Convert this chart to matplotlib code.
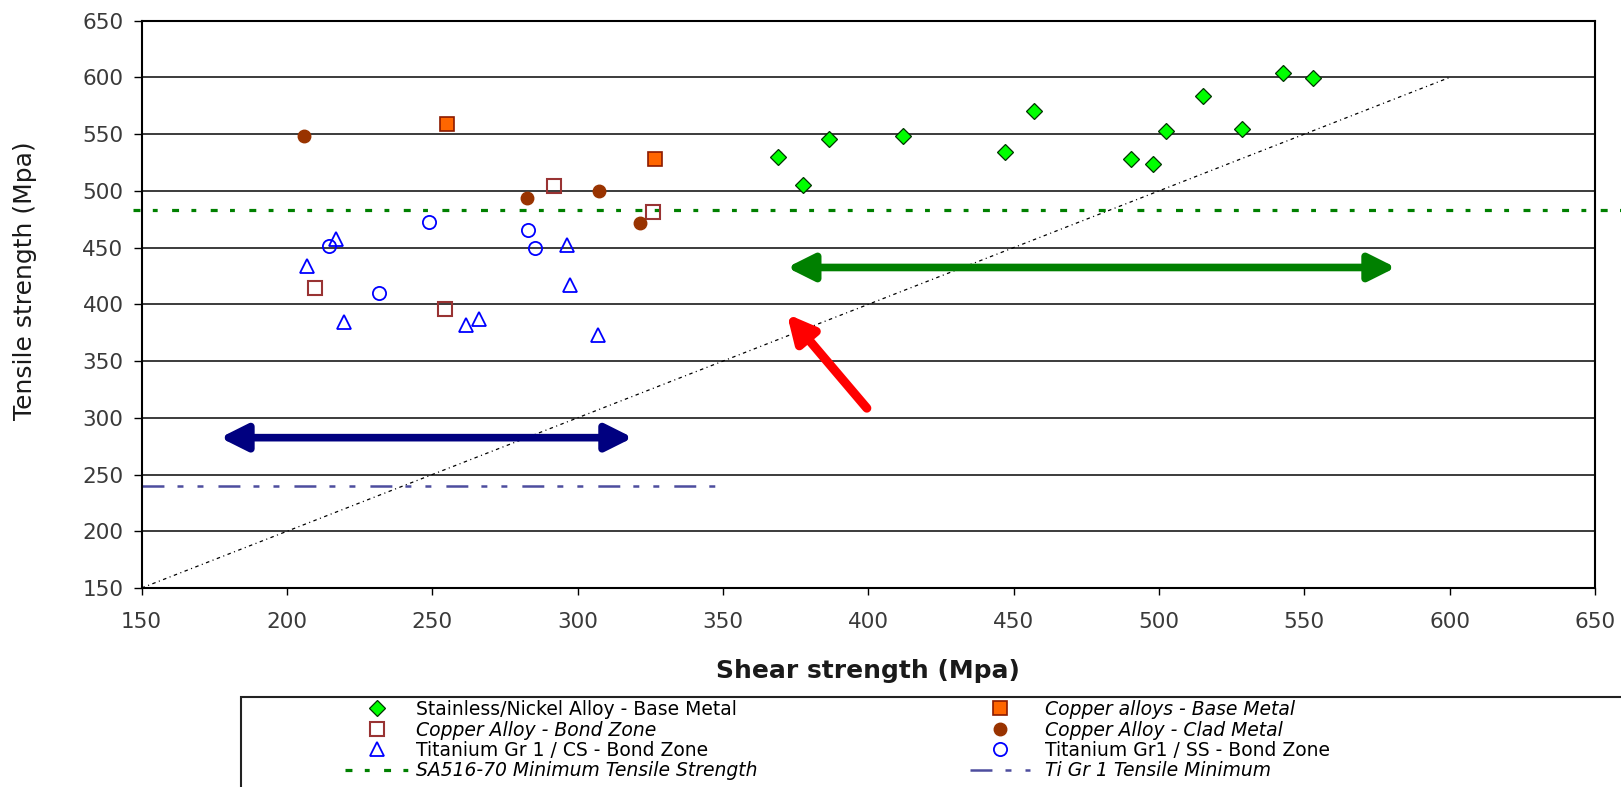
import numpy as np
import matplotlib
matplotlib.use('Agg')
import matplotlib.pyplot as plt
from matplotlib.patches import Rectangle

plt.rcParams['font.family'] = ['DejaVu Sans']
plt.rcParams['lines.scale_dashes'] = False

# data (MPa)
ss_shear = [369, 377.5, 386.5, 412, 447, 457, 490.5, 498, 502.5, 515, 528.5, 542.5, 553]
ss_tensile = [530, 505, 546, 548.5, 534.5, 570.5, 528, 523.5, 552.5, 583.5, 554.5, 603.5, 599.5]

cu_base_shear = [255, 326.5]
cu_base_tensile = [559, 528.5]

cu_bond_shear = [209.5, 254.5, 292, 326]
cu_bond_tensile = [414, 395.5, 504, 481]

cu_clad_shear = [206, 282.5, 307.5, 321.5]
cu_clad_tensile = [548.5, 493.5, 499.5, 471.5]

ti_cs_shear = [207, 217, 219.5, 261.5, 266, 296.5, 297.5, 307]
ti_cs_tensile = [434, 457.5, 384.5, 382, 387.5, 452, 417, 373]

ti_ss_shear = [214.5, 231.5, 249, 283, 285.5]
ti_ss_tensile = [451, 410, 473, 465.5, 449.5]

sa516_min = 483
ti_min = 240
ti_min_span = [150, 348]
diag = [150, 600]

ticks = list(range(150, 651, 50))

labels_col1 = ['Stainless/Nickel Alloy - Base Metal', 'Copper Alloy - Bond Zone',
               'Titanium Gr 1 / CS - Bond Zone', 'SA516-70 Minimum Tensile Strength']
labels_col2 = ['Copper alloys - Base Metal', 'Copper Alloy - Clad Metal',
               'Titanium Gr1 / SS - Bond Zone', 'Ti Gr 1 Tensile Minimum']

W, H = 1621, 787
fig = plt.figure(figsize=(W / 100, H / 100), dpi=100)
ax = fig.add_axes([141.6 / W, 1 - 588 / H, (1595 - 141.6) / W, (588 - 20.7) / H])

ax.set_xlim(150, 650)
ax.set_ylim(150, 650)
ax.set_xticks(ticks)
ax.set_yticks(ticks)
ax.grid(axis='y', color='#1a1a1a', lw=1.2, zorder=0)
ax.set_axisbelow(True)

# reference lines
ax.plot(diag, diag, color='black', lw=0.9, ls=(0, (2.5, 2.5, 0.8, 2.5)), zorder=2)
h_sa, = ax.plot([147, 660], [sa516_min, sa516_min], color='#008000', lw=2.3,
                ls=(0, (5, 8.9, 3.5, 10.4)), clip_on=False, zorder=2)
h_ti, = ax.plot(ti_min_span, [ti_min, ti_min], color='#4d4d9e', lw=1.8,
                ls=(0, (15.8, 9.4, 4.3, 10.1, 4.3, 10.8)), zorder=2)

# series
h_ss, = ax.plot(ss_shear, ss_tensile, ls='none', marker='D', ms=8, mfc='#00ff00',
                mec='#003300', mew=0.9, zorder=4)
h_cub, = ax.plot(cu_base_shear, cu_base_tensile, ls='none', marker='s', ms=9.5,
                 mfc='#ff6600', mec='#8b1a00', mew=1.2, zorder=4)
h_cubd, = ax.plot(cu_bond_shear, cu_bond_tensile, ls='none', marker='s', ms=9.5,
                  mfc='none', mec='#993333', mew=1.5, zorder=4)
h_cucl, = ax.plot(cu_clad_shear, cu_clad_tensile, ls='none', marker='o', ms=9,
                  mfc='#993300', mec='#993300', mew=1, zorder=4)
h_tics, = ax.plot(ti_cs_shear, ti_cs_tensile, ls='none', marker='^', ms=10,
                  mfc='none', mec='#0000ff', mew=1.3, zorder=4)
h_tiss, = ax.plot(ti_ss_shear, ti_ss_tensile, ls='none', marker='o', ms=9.5,
                  mfc='none', mec='#0000ff', mew=1.3, zorder=4)

# arrows
arr = dict(shrinkA=0, shrinkB=0, mutation_scale=20)
ax.annotate('', xy=(581.5, 432.5), xytext=(372, 432.5),
            arrowprops=dict(arrowstyle='<|-|>,head_length=0.8,head_width=0.4',
                            color='#008000', lw=5.5, **arr), zorder=5)
ax.annotate('', xy=(319, 282.5), xytext=(177, 282.5),
            arrowprops=dict(arrowstyle='<|-|>,head_length=0.8,head_width=0.4',
                            color='#000080', lw=5.5, **arr), zorder=5)
ax.annotate('', xy=(372, 391.5), xytext=(399.5, 308.5),
            arrowprops=dict(arrowstyle='-|>,head_length=0.8,head_width=0.4',
                            color='#ff0000', lw=6.5, **arr), zorder=5)

for sp in ax.spines.values():
    sp.set_linewidth(1.5)
    sp.set_color('black')
ax.tick_params(axis='both', direction='out', labelsize=15.5, labelcolor='#3a3a3a', width=1)
ax.tick_params(axis='y', length=6, pad=7)
ax.tick_params(axis='x', length=5, pad=12)

fig.text(868.3 / W, 1 - 671 / H, 'Shear strength (Mpa)', ha='center', va='center',
         fontsize=18, fontweight='bold', color='#1a1a1a')
fig.text(25 / W, 1 - 281 / H, 'Tensile strength (Mpa)', ha='center', va='center',
         rotation=90, fontsize=18, color='#1a1a1a')

# legend box runs off the bottom/right of the figure
fig.add_artist(Rectangle((241 / W, -0.05), 1.0, (1 - 697 / H) + 0.05,
                         transform=fig.transFigure, fill=False, lw=1.5,
                         ec='#222222', clip_on=False))

leg1 = fig.legend([h_ss, h_cubd, h_tics, h_sa], labels_col1, loc='upper left',
                  bbox_to_anchor=(345 / W, 1 - 700 / H), frameon=False, fontsize=13.5,
                  handlelength=3.45, handletextpad=0.32, labelspacing=0.08,
                  borderpad=0, borderaxespad=0, numpoints=1)
leg2 = fig.legend([h_cub, h_cucl, h_tiss, h_ti], labels_col2, loc='upper left',
                  bbox_to_anchor=(970 / W, 1 - 700 / H), frameon=False, fontsize=13.5,
                  handlelength=3.2, handletextpad=0.8, labelspacing=0.08,
                  borderpad=0, borderaxespad=0, numpoints=1)
for t in leg1.get_texts()[1:2] + leg1.get_texts()[3:]:
    t.set_style('italic')
for t in leg2.get_texts()[:2] + leg2.get_texts()[3:]:
    t.set_style('italic')

fig.savefig('out.png', dpi=100)
